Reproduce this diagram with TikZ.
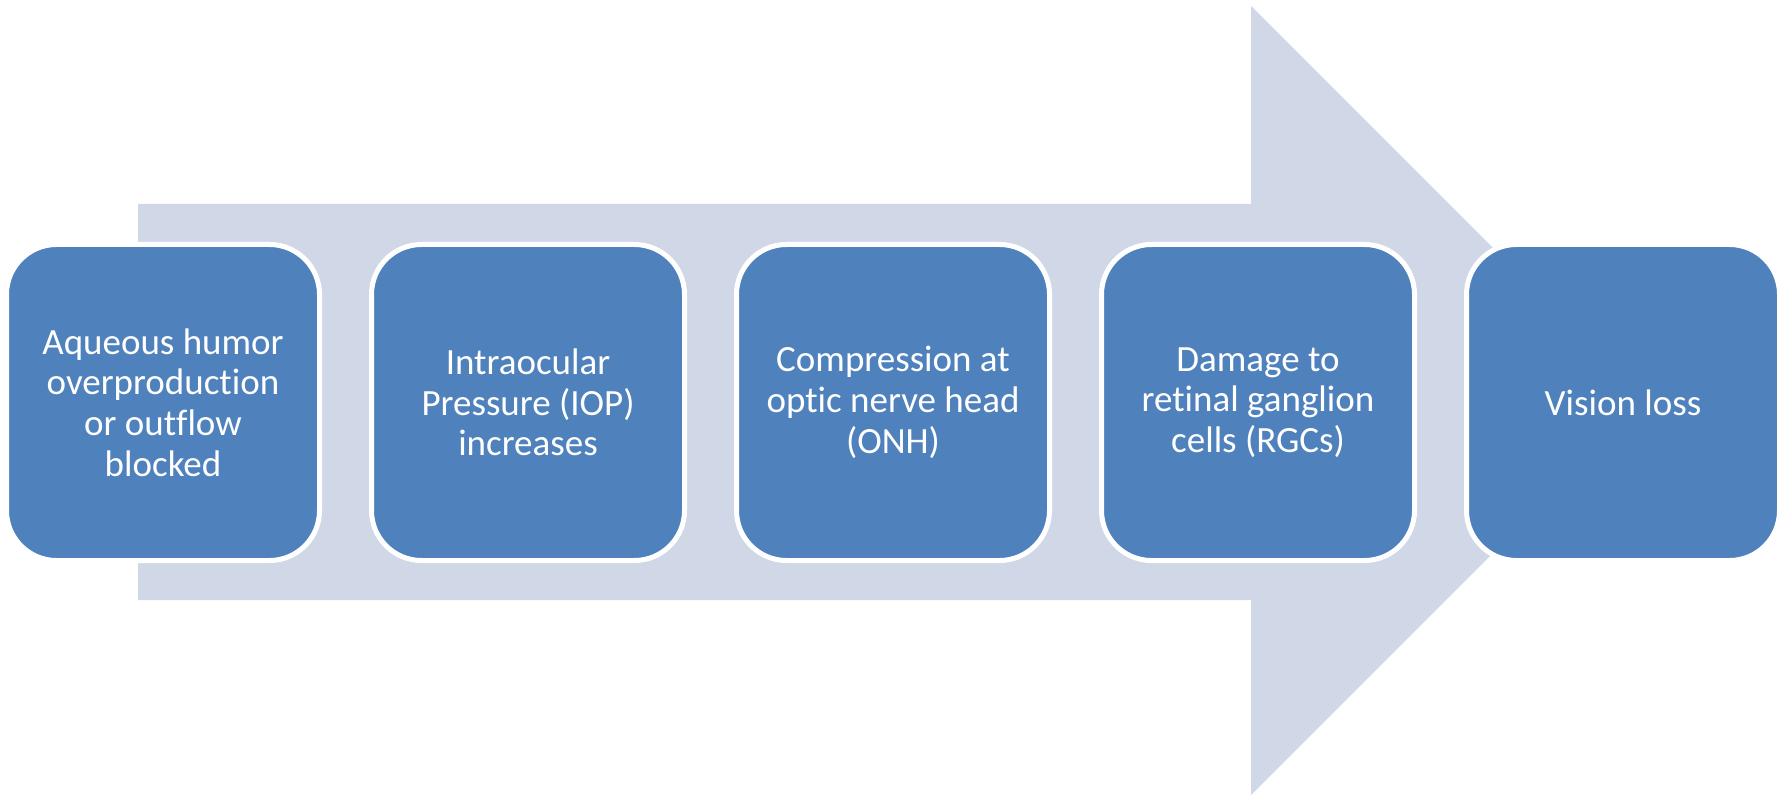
\documentclass[tikz,border=0pt]{standalone}
\usepackage{fontspec}
\setmainfont{Carlito}[Ligatures=NoCommon]
\usepackage{tikz}
\definecolor{arrowgray}{HTML}{D0D8E8}
\definecolor{boxblue}{HTML}{4F81BD}

\begin{document}
\begin{tikzpicture}[x=1pt,y=-1pt,
    stepbox/.style={draw=white,line width=5pt,fill=boxblue,rounded corners=50pt,
      minimum width=313pt,minimum height=316pt,inner sep=0pt,outer sep=0pt,
      text=white,align=center,font=\fontsize{37}{40.7}\selectfont}]
      \useasboundingbox (0,0) rectangle (1789,799);
      \fill[arrowgray] (138,204) -- (1251,204) -- (1251,6) -- (1645.5,400.5) -- (1251,795) -- (1251,600) -- (138,600) -- cycle;
      \node[stepbox] (aqueous) at (163,402.5) {Aqueous humor\\overproduction\\or outflow\\blocked};
      \node[stepbox] (iop) at (528,402.5) {Intraocular\\Pressure (IOP)\\increases};
      \node[stepbox] (onh) at (893,402.5) {Compression at\\optic nerve head\\(ONH)};
      \node[stepbox] (rgc) at (1258,402.5) {Damage to\\retinal ganglion\\cells (RGCs)};
      \node[stepbox] (loss) at (1623,402.5) {Vision loss};
    \end{tikzpicture}
\end{document}
